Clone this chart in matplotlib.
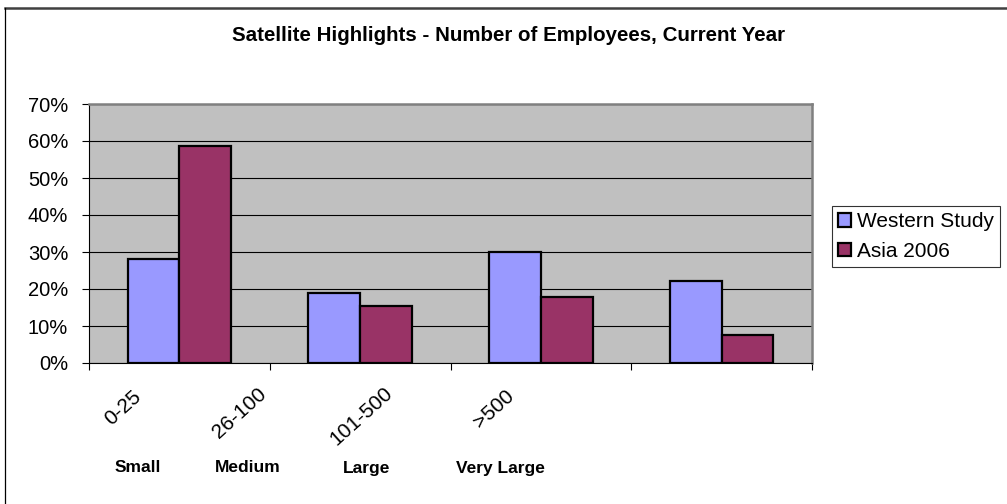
import matplotlib
matplotlib.use("Agg")
import matplotlib.pyplot as plt
from matplotlib.lines import Line2D
import numpy as np

# data
ranges = ["0-25", "26-100", "101-500", ">500"]
sizes = ["Small", "Medium", "Large", "Very Large"]
western = [28.2, 19.0, 30.1, 22.2]
asia = [58.7, 15.3, 17.8, 7.7]
yticks = [0, 10, 20, 30, 40, 50, 60, 70]

plt.rcParams['font.family'] = ['Liberation Sans', 'DejaVu Sans']

W, H = 1007, 504
fig = plt.figure(figsize=(W / 100, H / 100), dpi=100)

# plot area in pixels
x0, x1, y0, y1 = 89, 812, 104, 363
ax = fig.add_axes([x0 / W, 1 - y1 / H, (x1 - x0) / W, (y1 - y0) / H])
ax.set_facecolor('#C0C0C0')

x = np.arange(len(ranges))
bw = 1 / 3.5
ax.bar(x - bw / 2, western, bw, color='#9999FF', edgecolor='black', linewidth=1.6,
       label='Western Study', zorder=3)
ax.bar(x + bw / 2, asia, bw, color='#993366', edgecolor='black', linewidth=1.6,
       label='Asia 2006', zorder=3)

ax.set_xlim(-0.5, len(ranges) - 0.5)
ax.set_ylim(0, 70)
ax.set_yticks(yticks)
ax.set_yticklabels([f"{v}%" for v in yticks], fontsize=14.5)
ax.yaxis.grid(True, color='black', linewidth=0.8, zorder=1)
ax.set_axisbelow(True)
ax.set_xticks(np.arange(len(ranges) + 1) - 0.5)
ax.set_xticklabels([])
ax.tick_params(axis='both', direction='out', length=5, width=0.8, color='black')
ax.tick_params(axis='y', pad=10)

for s in ['top', 'right']:
    ax.spines[s].set_color('#808080')
    ax.spines[s].set_linewidth(1.8)
for s in ['left', 'bottom']:
    ax.spines[s].set_color('black')
    ax.spines[s].set_linewidth(0.8)

# category labels
rot_pos = [(123, 408), (240, 413), (361, 416), (494, 409)]
size_pos = [(138, 468), (248, 468), (367, 468), (500, 468)]
for lab, (px, py) in zip(ranges, rot_pos):
    fig.text(px / W, 1 - py / H, lab, rotation=42, ha='center', va='center',
             rotation_mode='anchor', fontsize=15)
for lab, (px, py) in zip(sizes, size_pos):
    fig.text(px / W, 1 - py / H, lab, ha='center', va='center', fontsize=12.5,
             fontweight='bold')

fig.text(509 / W, 1 - 41 / H, "Satellite Highlights - Number of Employees, Current Year",
         ha='center', va='baseline', fontsize=14.8, fontweight='bold')

leg = fig.legend(loc='upper left', bbox_to_anchor=(832 / W, 1 - 206 / H),
                 fontsize=15, frameon=True, fancybox=False, edgecolor='black',
                 handlelength=0.6, handleheight=0.6, handletextpad=0.3,
                 borderpad=0.3, labelspacing=0.5, borderaxespad=0)
leg.get_frame().set_linewidth(0.8)

# outer chart border
fig.add_artist(Line2D([5 / W, 1], [1 - 7.5 / H, 1 - 7.5 / H], color='#404040',
                      linewidth=1.8, transform=fig.transFigure))
fig.add_artist(Line2D([5 / W, 5 / W], [0, 1 - 7.5 / H], color='black',
                      linewidth=0.9, transform=fig.transFigure))

fig.savefig("out.png", dpi=100, facecolor='white')
